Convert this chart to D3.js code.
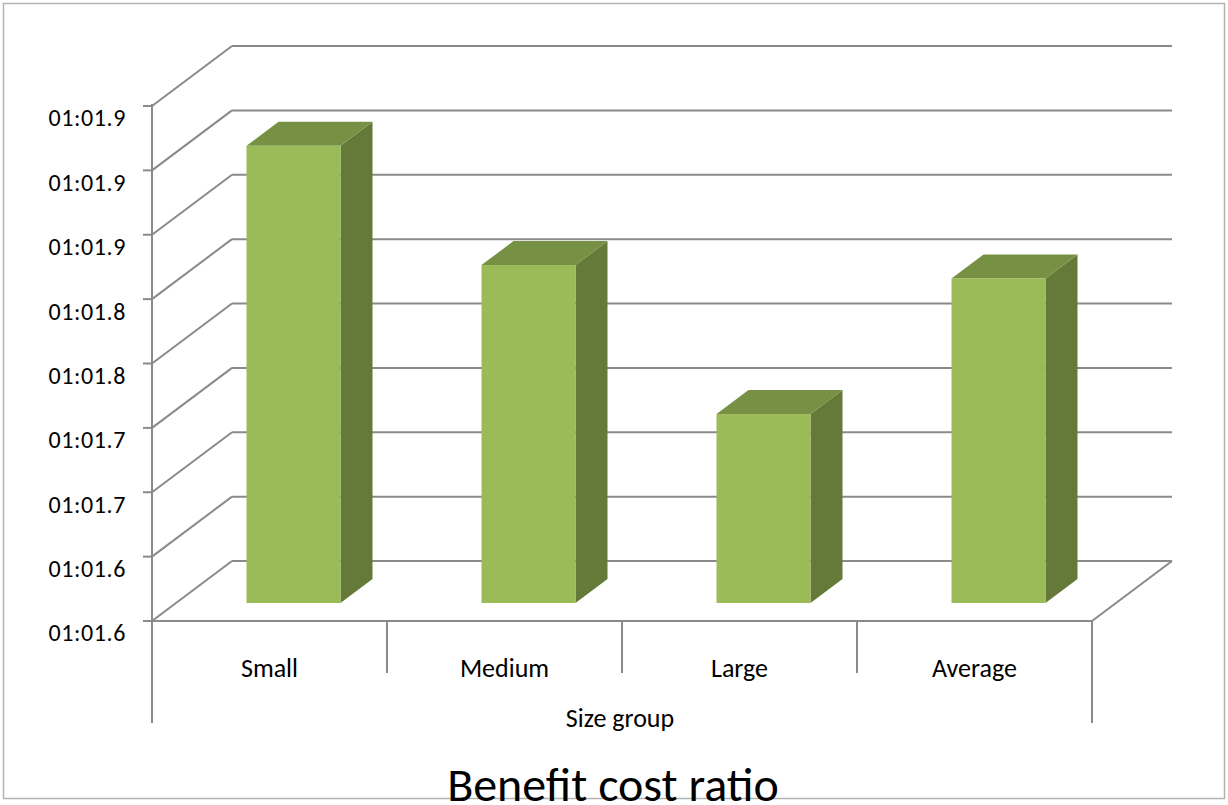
<!DOCTYPE html>
<html>
<head>
<meta charset="utf-8">
<script src="https://cdn.jsdelivr.net/npm/d3@7"></script>
<style>
    body { margin: 0; background: #ffffff; }
    svg text { font-family: Calibri, Carlito, Lato, sans-serif; fill: #000000; }
</style>
</head>
<body>
<div id="chart"></div>
<script>
// chart data (times in seconds, shown as mm:ss.0)
var categories = ['Small', 'Medium', 'Large', 'Average'];
var values = [61.910, 61.830, 61.730, 61.821];
var tickLabels = ['01:01.6', '01:01.6', '01:01.7', '01:01.7', '01:01.8', '01:01.8', '01:01.9', '01:01.9', '01:01.9'];
var yMin = 61.6032, yMax = 61.9488;
var xTitle = 'Size group';
var chartTitle = 'Benefit cost ratio';

function draw(){
    var width = 1228, height = 805;
    var plotLeft = 152, plotRight = 1092, plotBottom = 621, plotTop = 106;
    var depthX = 80, depthY = -60;     // full depth of the plot box
    var barFront = 0.3, barBack = 0.7;  // bar position inside the depth

    var svg = d3.select('#chart').append('svg')
        .attr('width', width)
        .attr('height', height);

    var x = d3.scaleBand()
        .domain(categories)
        .range([plotLeft, plotRight])
        .paddingInner(0.6)
        .paddingOuter(0.3);
    var cat = d3.scaleBand()
        .domain(categories)
        .range([plotLeft, plotRight]);
    var y = d3.scaleLinear()
        .domain([yMin, yMax])
        .range([plotBottom, plotTop]);
    var tickVals = tickLabels.map(function(d, i){
        return d3.interpolateNumber(yMin, yMax)(i / (tickLabels.length - 1));
    });

    // outer border
    svg.append('rect')
        .attr('x', 3.5).attr('y', 3.5)
        .attr('width', width - 7).attr('height', height - 10)
        .attr('fill', 'none')
        .attr('stroke', '#b3b3b3')
        .attr('stroke-width', 1.5);

    var grid = svg.append('g')
        .attr('stroke', '#8a8a8a')
        .attr('stroke-width', 2)
        .attr('fill', 'none');

    // back wall gridlines
    grid.selectAll('.back')
        .data(tickVals)
        .enter().append('line')
        .attr('x1', plotLeft + depthX).attr('x2', plotRight + depthX)
        .attr('y1', function(d){ return y(d) + depthY; })
        .attr('y2', function(d){ return y(d) + depthY; });

    // side wall lines
    grid.selectAll('.side')
        .data(tickVals)
        .enter().append('line')
        .attr('x1', plotLeft).attr('x2', plotLeft + depthX)
        .attr('y1', function(d){ return y(d); })
        .attr('y2', function(d){ return y(d) + depthY; });

    // floor
    grid.append('line')
        .attr('x1', plotLeft).attr('x2', plotRight)
        .attr('y1', plotBottom).attr('y2', plotBottom);
    grid.append('line')
        .attr('x1', plotRight).attr('x2', plotRight + depthX)
        .attr('y1', plotBottom).attr('y2', plotBottom + depthY);

    // value axis
    grid.append('line')
        .attr('x1', plotLeft).attr('x2', plotLeft)
        .attr('y1', plotTop - 2).attr('y2', 723);
    grid.selectAll('.tick')
        .data(tickVals)
        .enter().append('line')
        .attr('x1', plotLeft - 9).attr('x2', plotLeft)
        .attr('y1', function(d){ return y(d); })
        .attr('y2', function(d){ return y(d); });

    // category separators
    grid.selectAll('.sep')
        .data(categories.slice(1))
        .enter().append('line')
        .attr('x1', function(d){ return cat(d); })
        .attr('x2', function(d){ return cat(d); })
        .attr('y1', plotBottom).attr('y2', 673);
    grid.append('line')
        .attr('x1', plotRight).attr('x2', plotRight)
        .attr('y1', plotBottom).attr('y2', 723);

    svg.selectAll('.ylabel')
        .data(tickVals)
        .enter().append('text')
        .attr('x', 126)
        .attr('y', function(d){ return y(d) + 12; })
        .attr('dy', '0.35em')
        .attr('text-anchor', 'end')
        .style('font-size', '24px')
        .style('letter-spacing', '0.6px')
        .text(function(d, i){ return tickLabels[i]; });

    // bars
    var fx = depthX * barFront, fy = depthY * barFront;
    var bx = depthX * (barBack - barFront), by = depthY * (barBack - barFront);
    var bars = svg.selectAll('.bar')
        .data(categories)
        .enter().append('g')
        .attr('class', 'bar');

    bars.append('path')
        .attr('fill', '#657a38')
        .attr('d', function(d, i){
            var x1 = x(d) + x.bandwidth() + fx;
            var y0 = y(yMin) + fy, y1 = y(values[i]) + fy;
            return 'M' + x1 + ',' + y1 + 'L' + (x1 + bx) + ',' + (y1 + by) +
                'L' + (x1 + bx) + ',' + (y0 + by) + 'L' + x1 + ',' + y0 + 'Z';
        });
    bars.append('path')
        .attr('fill', '#779144')
        .attr('d', function(d, i){
            var x0 = x(d) + fx, x1 = x0 + x.bandwidth();
            var y1 = y(values[i]) + fy;
            return 'M' + x0 + ',' + y1 + 'L' + (x0 + bx) + ',' + (y1 + by) +
                'L' + (x1 + bx) + ',' + (y1 + by) + 'L' + x1 + ',' + y1 + 'Z';
        });
    bars.append('rect')
        .attr('fill', '#9bbb59')
        .attr('x', function(d){ return x(d) + fx; })
        .attr('y', function(d, i){ return y(values[i]) + fy; })
        .attr('width', x.bandwidth())
        .attr('height', function(d, i){ return y(yMin) - y(values[i]); });

    // category labels
    svg.selectAll('.xlabel')
        .data(categories)
        .enter().append('text')
        .attr('x', function(d){ return cat(d) + cat.bandwidth() / 2; })
        .attr('y', 668)
        .attr('dy', '0.35em')
        .attr('text-anchor', 'middle')
        .style('font-size', '26px')
        .text(function(d){ return d; });

    svg.append('text')
        .attr('x', 620)
        .attr('y', 718)
        .attr('dy', '0.35em')
        .attr('text-anchor', 'middle')
        .style('font-size', '26px')
        .text(xTitle);

    svg.append('text')
        .attr('x', 613)
        .attr('y', 801)
        .attr('text-anchor', 'middle')
        .style('font-size', '48px')
        .text(chartTitle);
}

draw();
</script>
</body>
</html>
